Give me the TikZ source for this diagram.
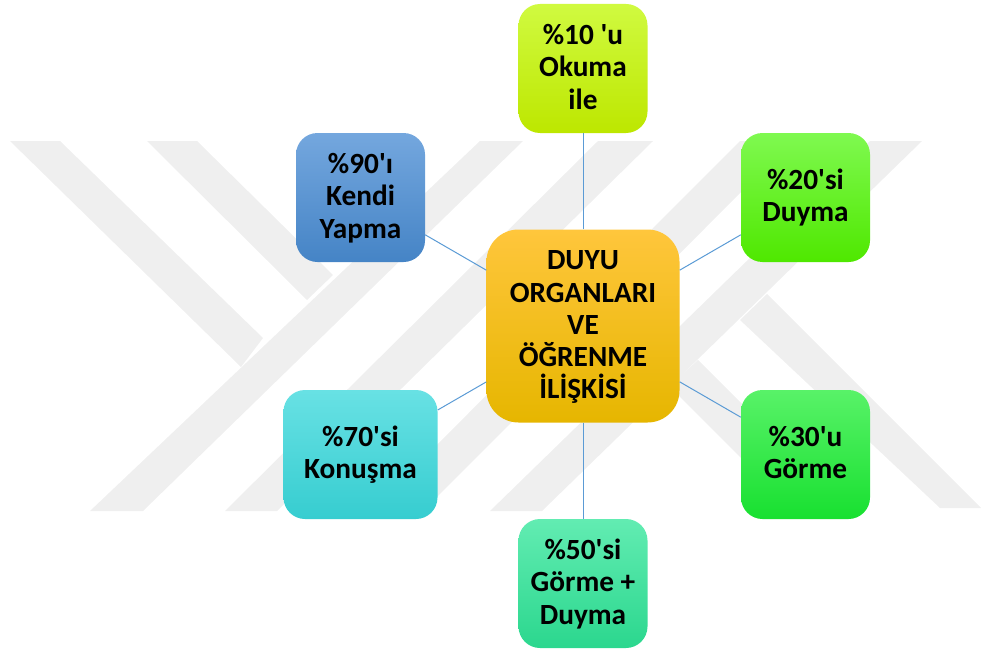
\documentclass[tikz,border=0pt]{standalone}
\usepackage{fontspec}
\newfontfamily\calibri{Carlito}
\usepackage{tikz}
\newcommand{\firststrut}{\rule{0pt}{24.4pt}}
\newcommand{\laststrut}{\rule[-7.8pt]{0pt}{7.8pt}}
\tikzstyle{box} = [rectangle, rounded corners=21.5pt, minimum width=129pt, minimum height=129pt, inner sep=0pt, text centered, align=center, font=\calibri\bfseries\fontsize{29.3}{32.3}\selectfont, execute at end node=\laststrut]
\tikzstyle{hub} = [box, rounded corners=32pt, minimum width=193pt, minimum height=193pt, top color=hubT, middle color=hubM, bottom color=hubB]
\tikzstyle{band} = [fill=markgray]
\tikzstyle{link} = [draw=linkblue, line width=1pt]
\definecolor{markgray}{HTML}{EFEFEF}
\definecolor{linkblue}{HTML}{5B9BD5}
\definecolor{hubT}{HTML}{FFC63C}
\definecolor{hubM}{HTML}{FFC500}
\definecolor{hubB}{HTML}{E6B600}
\definecolor{okuT}{HTML}{D0FA40}
\definecolor{okuM}{HTML}{CCFF00}
\definecolor{okuB}{HTML}{BDE700}
\definecolor{duyT}{HTML}{7FF950}
\definecolor{duyM}{HTML}{66FB1B}
\definecolor{duyB}{HTML}{4FE800}
\definecolor{gorT}{HTML}{58F268}
\definecolor{gorM}{HTML}{27F041}
\definecolor{gorB}{HTML}{18E030}
\definecolor{gduT}{HTML}{62ECB2}
\definecolor{gduM}{HTML}{38E39A}
\definecolor{gduB}{HTML}{2BD78E}
\definecolor{konT}{HTML}{68E1E4}
\definecolor{konM}{HTML}{46E0E4}
\definecolor{konB}{HTML}{36CDD0}
\definecolor{kenT}{HTML}{74A7DE}
\definecolor{kenM}{HTML}{5593D7}
\definecolor{kenB}{HTML}{4584C6}
\begin{document}
\begin{tikzpicture}[x=1pt, y=-1pt, node distance=222.5pt]
	\useasboundingbox (0,0) rectangle (981,650);
	% faint mark behind the diagram
	\fill [band] (10,141) -- (60,141) -- (263,338) -- (241,367) -- cycle;
	\fill [band] (147,141) -- (197,141) -- (333,275) -- (307,300) -- cycle;
	\fill [band] (90,511) -- (143,511) -- (523,141) -- (480,141) -- cycle;
	\fill [band] (225,511) -- (277,511) -- (653,141) -- (598,141) -- cycle;
	\fill [band] (371,511) -- (423,511) -- (792,141) -- (740,141) -- cycle;
	\fill [band] (490,511) -- (542,511) -- (922,141) -- (870,141) -- cycle;
	\fill [band] (767,294) -- (981,508) -- (940,508) -- (740,320) -- cycle;
	\fill [band] (698,360) -- (849,511) -- (794,511) -- (669,386) -- cycle;

	\node (duyu)[hub] at (583,326) {\firststrut DUYU\\ORGANLARI\\VE\\ÖĞRENME\\İLİŞKİSİ};
	\node (okuma)[box, above of=duyu, node distance=257.5pt, top color=okuT, middle color=okuM, bottom color=okuB]{\firststrut\%10 'u\\Okuma\\ile};
	\node (duyma)[box, right of=duyu, yshift=128.5pt, top color=duyT, middle color=duyM, bottom color=duyB]{\firststrut\%20'si\\Duyma};
	\node (gorme)[box, right of=duyu, yshift=-128.5pt, top color=gorT, middle color=gorM, bottom color=gorB]{\firststrut\%30'u\\Görme};
	\node (gormeduyma)[box, below of=duyu, node distance=257.5pt, top color=gduT, middle color=gduM, bottom color=gduB]{\firststrut\%50'si\\Görme +\\Duyma};
	\node (konusma)[box, left of=duyu, yshift=-128.5pt, minimum width=154pt, top color=konT, middle color=konM, bottom color=konB]{\firststrut\%70'si\\Konuşma};
	\node (kendi)[box, left of=duyu, yshift=128.5pt, top color=kenT, middle color=kenM, bottom color=kenB]{\firststrut\%90'ı\\Kendi\\Yapma};

	\draw [link] (duyu) -- (okuma);
	\draw [link] (duyu) -- (duyma);
	\draw [link] (duyu) -- (gorme);
	\draw [link] (duyu) -- (gormeduyma);
	\draw [link] (duyu) -- (konusma);
	\draw [link] (duyu) -- (kendi);
\end{tikzpicture}
\end{document}
